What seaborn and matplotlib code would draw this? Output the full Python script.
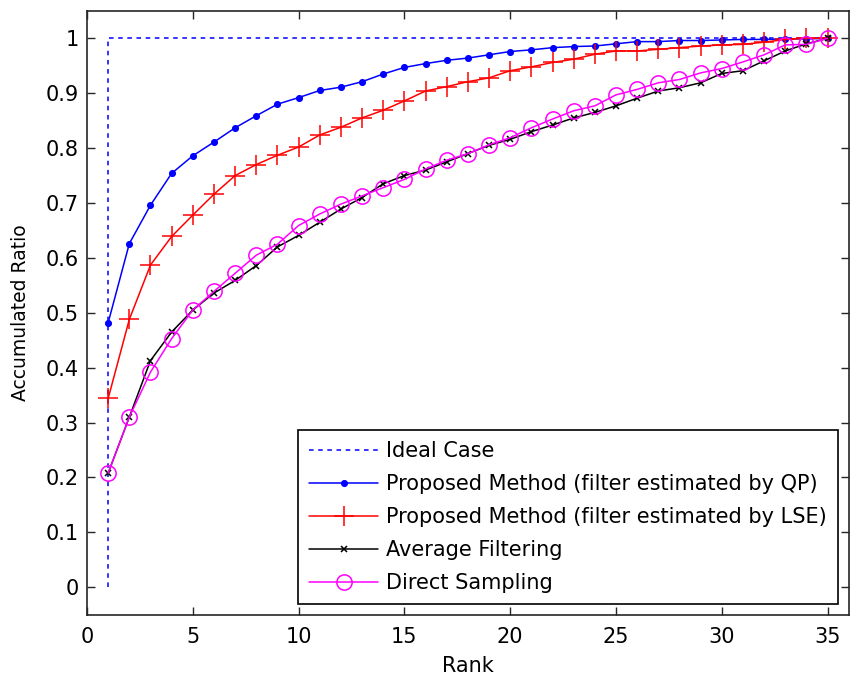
import numpy as np
import pandas as pd
import matplotlib
matplotlib.use("Agg")
import matplotlib.pyplot as plt
import seaborn as sns

# ---- data ----
rank = list(range(1, 36))

ideal_x = [1, 1, 35]
ideal_y = [0.0, 1.0, 1.0]

qp = [0.482, 0.626, 0.696, 0.754, 0.786, 0.811, 0.837, 0.859, 0.880, 0.892,
      0.905, 0.911, 0.921, 0.935, 0.947, 0.954, 0.960, 0.964, 0.970, 0.976,
      0.979, 0.983, 0.985, 0.986, 0.990, 0.994, 0.994, 0.996, 0.996, 0.997,
      0.998, 0.998, 0.999, 0.999, 1.000]

lse = [0.344, 0.488, 0.587, 0.639, 0.678, 0.716, 0.750, 0.770, 0.787, 0.802,
       0.824, 0.838, 0.855, 0.869, 0.886, 0.904, 0.912, 0.921, 0.928, 0.941,
       0.948, 0.956, 0.962, 0.971, 0.977, 0.977, 0.980, 0.983, 0.986, 0.988,
       0.989, 0.993, 0.998, 1.000, 1.000]

avg = [0.208, 0.310, 0.413, 0.465, 0.505, 0.536, 0.559, 0.586, 0.620, 0.641,
       0.665, 0.689, 0.710, 0.735, 0.750, 0.760, 0.775, 0.790, 0.805, 0.816,
       0.830, 0.842, 0.855, 0.865, 0.877, 0.891, 0.904, 0.910, 0.919, 0.936,
       0.941, 0.959, 0.977, 0.990, 1.000]

direct = [0.208, 0.310, 0.392, 0.453, 0.505, 0.539, 0.572, 0.605, 0.625, 0.659,
          0.680, 0.698, 0.713, 0.728, 0.743, 0.762, 0.778, 0.790, 0.806, 0.819,
          0.837, 0.853, 0.868, 0.877, 0.897, 0.907, 0.919, 0.925, 0.937, 0.945,
          0.957, 0.970, 0.988, 0.989, 1.000]

x_ticks = [0, 5, 10, 15, 20, 25, 30, 35]
y_ticks = [0, 0.1, 0.2, 0.3, 0.4, 0.5, 0.6, 0.7, 0.8, 0.9, 1.0]
y_tick_labels = ["0", "0.1", "0.2", "0.3", "0.4", "0.5", "0.6", "0.7",
                 "0.8", "0.9", "1"]

labels = {
    "ideal": "Ideal Case",
    "qp": "Proposed Method (filter estimated by QP)",
    "lse": "Proposed Method (filter estimated by LSE)",
    "avg": "Average Filtering",
    "direct": "Direct Sampling",
}

# ---- style (MATLAB-ish: boxed axes, inward ticks, black text) ----
sns.set_theme(style="ticks")
plt.rcParams["font.family"] = ["DejaVu Sans"]
plt.rcParams["font.size"] = 15
plt.rcParams["text.color"] = "black"
plt.rcParams["axes.labelcolor"] = "black"
plt.rcParams["xtick.color"] = "black"
plt.rcParams["ytick.color"] = "black"
plt.rcParams["xtick.direction"] = "in"
plt.rcParams["ytick.direction"] = "in"
plt.rcParams["xtick.top"] = True
plt.rcParams["ytick.right"] = True

fig = plt.figure(figsize=(8.53, 6.8), dpi=100)
ax = fig.add_axes([0.102, 0.096, 0.893, 0.888])

# ideal case, dashed blue
sns.lineplot(x=ideal_x, y=ideal_y, ax=ax, color="#0000ff", linewidth=1.1,
             linestyle=(0, (3, 3)), sort=False, estimator=None,
             label=labels["ideal"])

series = [
    (qp, labels["qp"], "#0000ff", ".", 8, "#0000ff", "#0000ff"),
    (lse, labels["lse"], "#ff0000", "+", 14, "#ff0000", "#ff0000"),
    (avg, labels["avg"], "#000000", "x", 5, "#000000", "#000000"),
    (direct, labels["direct"], "#ff00ff", "o", 11, "#ff00ff", "none"),
]
for vals, lab, col, mk, ms, mec, mfc in series:
    sns.lineplot(x=rank, y=vals, ax=ax, color=col, linewidth=1.1,
                 marker=mk, markersize=ms, markeredgecolor=mec,
                 markerfacecolor=mfc, markeredgewidth=1.1,
                 estimator=None, label=lab)

ax.set_xlim(0, 36)
ax.set_ylim(-0.05, 1.05)
ax.set_xticks(x_ticks)
ax.set_yticks(y_ticks)
ax.set_yticklabels(y_tick_labels)
ax.set_xlabel("Rank", fontsize=15, labelpad=6)
ax.set_ylabel("Accumulated Ratio", fontsize=13.5, labelpad=11)
ax.tick_params(length=6, width=1, labelsize=15, color="#262626")
ax.tick_params(axis="x", pad=9)
ax.tick_params(axis="y", pad=6)
for sp in ax.spines.values():
    sp.set_visible(True)
    sp.set_linewidth(1.2)
    sp.set_color("#262626")

leg = ax.legend(loc="lower right", fontsize=15, frameon=True, fancybox=False,
                edgecolor="black", framealpha=1, borderpad=0.55,
                labelspacing=0.62, handlelength=3.3, handletextpad=0.38,
                borderaxespad=0.5)
leg.get_frame().set_linewidth(1.2)

fig.savefig("out.png", dpi=100)
